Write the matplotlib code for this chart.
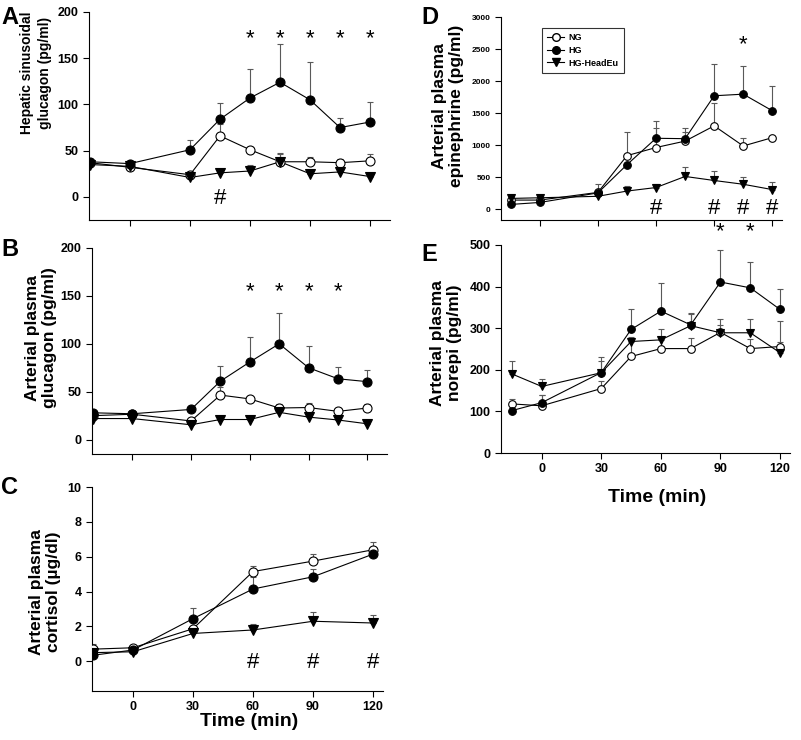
import matplotlib

matplotlib.use("Agg")
import matplotlib.pyplot as plt
from matplotlib.lines import Line2D

plt.rcParams["font.family"] = ["Liberation Sans", "DejaVu Sans"]
plt.rcParams["font.weight"] = "bold"

W, H = 801, 740

# time points (min)
t_left = [-20, 0, 30, 45, 60, 75, 90, 105, 120]
t_cort = [-20, 0, 30, 60, 90, 120]
t_right = [-15, 0, 30, 45, 60, 75, 90, 105, 120]

# A: hepatic sinusoidal glucagon (pg/ml)
a_ng = [37, 32, 24, 66, 51, 38, 38, 37, 39]
a_ng_se = [3, 2, 3, 13, 3, 9, 5, 4, 7]
a_hg = [38, 36, 51, 84, 107, 124, 105, 75, 81]
a_hg_se = [3, 2, 10, 18, 31, 41, 41, 10, 22]
a_he = [35, 33, 21, 26, 28, 38, 25, 27, 22]
a_he_se = [2, 2, 2, 2, 6, 8, 3, 3, 4]

# B: arterial plasma glucagon (pg/ml)
b_ng = [25, 26.5, 19.5, 46.5, 42.5, 33, 33.5, 29.5, 33]
b_ng_se = [2, 2, 2, 8, 2, 4, 5, 3, 4]
b_hg = [28, 27, 31.5, 61, 81, 100, 75, 63.5, 60.5]
b_hg_se = [2, 2, 4, 15.5, 26, 32, 23, 12.5, 12.5]
b_he = [22, 22, 15.5, 21, 21, 28.5, 23.5, 20.5, 16.5]
b_he_se = [2, 2, 2, 2, 3, 3, 2, 2, 2]

# C: arterial plasma cortisol (ug/dl)
c_ng = [0.7, 0.78, 1.87, 5.15, 5.75, 6.4]
c_ng_se = [0.3, 0.08, 0.1, 0.32, 0.42, 0.45]
c_hg = [0.35, 0.65, 2.45, 4.15, 4.85, 6.15]
c_hg_se = [0.1, 0.1, 0.62, 0.68, 0.45, 0.1]
c_he = [0.5, 0.55, 1.6, 1.8, 2.3, 2.2]
c_he_se = [0.1, 0.1, 0.1, 0.35, 0.55, 0.45]

# D: arterial plasma epinephrine (pg/ml)
d_ng = [141, 141, 261, 835, 962, 1062, 1300, 986, 1116]
d_ng_se = [20, 20, 10, 365, 308, 148, 364, 130, 20]
d_hg = [73, 104, 253, 694, 1106, 1100, 1770, 1795, 1536]
d_hg_se = [10, 10, 138, 30, 276, 163, 494, 445, 392]
d_he = [167, 177, 200, 282, 337, 510, 447, 388, 305]
d_he_se = [10, 10, 10, 83, 60, 155, 147, 108, 123]

# E: arterial plasma norepinephrine (pg/ml)
e_ng = [118, 113.5, 155, 232, 251, 251, 290, 251, 256]
e_ng_se = [13, 26, 19, 38, 23, 26, 18, 23, 12]
e_hg = [102, 121, 193.5, 297, 341, 308, 411, 397, 345]
e_hg_se = [5, 18, 37, 48, 67, 26, 76, 63, 50]
e_he = [190, 160, 193, 268, 272, 306, 289, 289, 241]
e_he_se = [30, 18, 28, 10, 26, 30, 33, 34, 76]

# significance marks (x, y)
a_star_x = [60, 75, 90, 105, 120]
a_star_y = 171
a_hash_x = [45]
b_star_x = [60, 75, 90, 105]
b_star_y = 154
c_hash_x = [60, 90, 120]
d_star_x = [105]
d_star_y = 2560
d_hash_x = [60, 90, 105, 120]
e_star_x = [90, 105]
e_star_y = 533

xticks = [0, 30, 60, 90, 120]

fig = plt.figure(figsize=(W / 100, H / 100), dpi=100)


def make_ax(l, r, t, b):
    return fig.add_axes([l / W, 1 - b / H, (r - l) / W, (b - t) / H])


def panel(ax, t, series, ms, tick_fs):
    styles = [("o", "white"), ("o", "black"), ("v", "black")]
    for (y, se), (mk, fc) in zip(series, styles):
        ax.errorbar(t, y, yerr=[[0] * len(se), se], fmt="none", ecolor="0.35",
                    elinewidth=0.8, capsize=2.5, capthick=0.8, zorder=2)
        ax.plot(t, y, color="black", lw=0.8, zorder=3)
        ax.plot(t, y, linestyle="none", marker=mk, ms=ms, mfc=fc, mec="black",
                mew=0.8, zorder=4)
    for side in ("top", "right"):
        ax.spines[side].set_visible(False)
    for side in ("left", "bottom"):
        ax.spines[side].set_linewidth(0.8)
    ax.set_xticks(xticks)
    ax.tick_params(direction="out", length=4, width=0.8, labelsize=tick_fs)
    for lab in ax.get_yticklabels() + ax.get_xticklabels():
        lab.set_fontweight("bold")


def marks(ax, xs, y, s, fs, weight="normal"):
    for x in xs:
        ax.text(x, y, s, ha="center", va="center", fontsize=fs,
                fontweight=weight, clip_on=False, zorder=5)


# A
axA = make_ax(89, 390, 12, 220)
panel(axA, t_left, [(a_ng, a_ng_se), (a_hg, a_hg_se), (a_he, a_he_se)], 6.5, 9)
axA.set_xlim(-20.5, 130)
axA.set_ylim(-25, 200)
axA.set_yticks([0, 50, 100, 150, 200])
axA.set_xticklabels([])
marks(axA, a_star_x, a_star_y, "*", 16)
marks(axA, a_hash_x, -2, "#", 16)

# B
axB = make_ax(92, 387, 248, 454)
panel(axB, t_left, [(b_ng, b_ng_se), (b_hg, b_hg_se), (b_he, b_he_se)], 6.5, 9)
axB.set_xlim(-20.5, 130)
axB.set_ylim(-15, 200)
axB.set_yticks([0, 50, 100, 150, 200])
axB.set_xticklabels([])
marks(axB, b_star_x, b_star_y, "*", 16)

# C
axC = make_ax(92, 383, 487, 691)
panel(axC, t_cort, [(c_ng, c_ng_se), (c_hg, c_hg_se), (c_he, c_he_se)], 6.5, 9)
axC.set_xlim(-20.5, 125)
axC.set_ylim(-1.7, 10)
axC.set_yticks([0, 2, 4, 6, 8, 10])
marks(axC, c_hash_x, -0.05, "#", 16)

# D
axD = make_ax(501, 782, 17, 220)
panel(axD, t_right, [(d_ng, d_ng_se), (d_hg, d_hg_se), (d_he, d_he_se)], 5.5, 6)
axD.set_xlim(-20, 125)
axD.set_ylim(-170, 3000)
axD.set_yticks([0, 500, 1000, 1500, 2000, 2500, 3000])
axD.set_xticklabels([])
marks(axD, d_star_x, d_star_y, "*", 16)
marks(axD, d_hash_x, 10, "#", 16)
handles = [
    Line2D([], [], color="black", lw=0.8, marker="o", ms=5.5, mfc="white", mec="black"),
    Line2D([], [], color="black", lw=0.8, marker="o", ms=5.5, mfc="black", mec="black"),
    Line2D([], [], color="black", lw=0.8, marker="v", ms=5.5, mfc="black", mec="black"),
]
leg = axD.legend(handles, ["NG", "HG", "HG-HeadEu"], loc="upper left",
                 bbox_to_anchor=(0.145, 0.946), fontsize=6.5, frameon=True,
                 fancybox=False, handlelength=1.9, borderpad=0.6,
                 labelspacing=0.4, handletextpad=0.5, borderaxespad=0)
leg.get_frame().set_edgecolor("black")
leg.get_frame().set_linewidth(0.8)
for txt in leg.get_texts():
    txt.set_fontweight("bold")

# E
axE = make_ax(501, 790, 245, 453)
panel(axE, t_right, [(e_ng, e_ng_se), (e_hg, e_hg_se), (e_he, e_he_se)], 5.5, 9)
axE.set_xlim(-20.5, 125)
axE.set_ylim(0, 500)
axE.set_yticks([0, 100, 200, 300, 400, 500])
marks(axE, e_star_x, e_star_y, "*", 16)

# axis titles
fig.text(36 / W, 1 - 73 / H, "Hepatic sinusoidal\nglucagon (pg/ml)", rotation=90,
         ha="center", va="center", multialignment="center", fontsize=10,
         fontweight="bold", linespacing=1.3)
fig.text(41 / W, 1 - 338 / H, "Arterial plasma\nglucagon (pg/ml)", rotation=90,
         ha="center", va="center", multialignment="center", fontsize=12.5,
         fontweight="bold", linespacing=1.15)
fig.text(45 / W, 1 - 592 / H, "Arterial plasma\ncortisol (\u00b5g/dl)", rotation=90,
         ha="center", va="center", multialignment="center", fontsize=12.5,
         fontweight="bold", linespacing=1.15)
fig.text(448 / W, 1 - 106 / H, "Arterial plasma\nepinephrine (pg/ml)", rotation=90,
         ha="center", va="center", multialignment="center", fontsize=12.5,
         fontweight="bold", linespacing=1.15)
fig.text(446 / W, 1 - 343 / H, "Arterial plasma\nnorepi (pg/ml)", rotation=90,
         ha="center", va="center", multialignment="center", fontsize=12.5,
         fontweight="bold", linespacing=1.15)
fig.text(249 / W, 1 - 721 / H, "Time (min)", ha="center", va="center",
         fontsize=14, fontweight="bold")
fig.text(657 / W, 1 - 497 / H, "Time (min)", ha="center", va="center",
         fontsize=14, fontweight="bold")

# panel letters
for x, y, s in [(10, 17, "A"), (10, 250, "B"), (9, 487, "C"), (430, 17, "D"), (429, 254, "E")]:
    fig.text(x / W, 1 - y / H, s, ha="center", va="center", fontsize=17,
             fontweight="bold")

fig.savefig("out.png", dpi=100)
